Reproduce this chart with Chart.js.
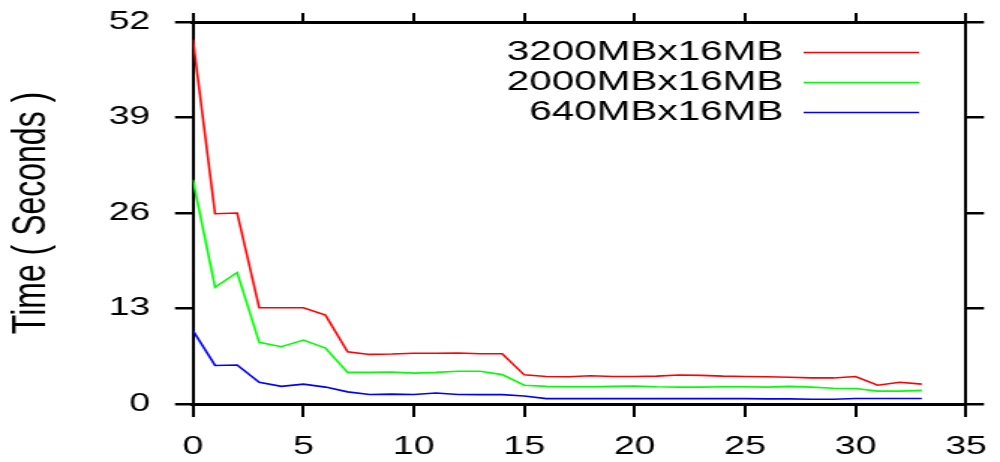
<!DOCTYPE html>
<html>
<head>
<meta charset="utf-8">
<script src="https://cdn.jsdelivr.net/npm/chart.js@4/dist/chart.umd.min.js"></script>
<style>
  html, body { margin: 0; padding: 0; background: #fff; overflow: hidden; }
  /* the original figure is stretched sideways, so draw narrow and widen it */
  #wrap { position: absolute; left: 0; top: 0; width: 667px; height: 462px;
          transform: scaleX(1.49925); transform-origin: 0 0; }
</style>
</head>
<body>
<div id="wrap"><canvas id="timeChart"></canvas></div>
<script>
// iteration index along the x axis
const steps = [0, 1, 2, 3, 4, 5, 6, 7, 8, 9, 10, 11, 12, 13, 14, 15, 16,
               17, 18, 19, 20, 21, 22, 23, 24, 25, 26, 27, 28, 29, 30, 31, 32, 33];

const seriesNames = ['3200MBx16MB', '2000MBx16MB', '640MBx16MB'];

// time in seconds
const time3200 = [49.6, 25.9, 26.0, 13.1, 13.1, 13.1, 12.1, 7.1, 6.75, 6.8, 6.9, 6.9,
                  6.95, 6.85, 6.85, 3.97, 3.75, 3.7, 3.85, 3.75, 3.75, 3.8, 3.95, 3.9,
                  3.8, 3.75, 3.7, 3.65, 3.55, 3.55, 3.75, 2.55, 2.95, 2.7];
const time2000 = [30.5, 15.9, 17.9, 8.4, 7.8, 8.7, 7.6, 4.3, 4.3, 4.35, 4.2, 4.3,
                  4.45, 4.45, 4.0, 2.55, 2.4, 2.35, 2.35, 2.4, 2.45, 2.35, 2.3, 2.3,
                  2.35, 2.35, 2.3, 2.4, 2.3, 2.15, 2.1, 1.75, 1.75, 1.85];
const time640 = [10.0, 5.25, 5.3, 2.95, 2.4, 2.7, 2.3, 1.65, 1.3, 1.35, 1.3, 1.5,
                 1.3, 1.27, 1.27, 1.1, 0.73, 0.73, 0.73, 0.73, 0.73, 0.73, 0.73, 0.73,
                 0.73, 0.73, 0.7, 0.7, 0.65, 0.65, 0.75, 0.75, 0.75, 0.75];

const seriesColors = ['#ff0000', '#00ff00', '#0000ff'];

const xTicks = { min: 0, max: 35, step: 5 };
const yTicks = { min: 0, max: 52, step: 13 };

const FONT = "'Liberation Sans', Arial, Helvetica, sans-serif";

function toPoints(values) {
    return values.map((v, i) => ({ x: steps[i], y: v }));
}

// put the legend in the upper right of the plot box
const legendPlacer = {
    id: 'legendPlacer',
    afterLayout(chart) {
        const lg = chart.legend;
        if (!lg) return;
        const right = 616, top = 36;
        const w = lg.width, h = lg.height;
        lg.left = right - w;
        lg.right = right;
        lg.top = top;
        lg.bottom = top + h;
    }
};

// fixed axis sizes, and no extra room for overhanging labels
function fixSize(dim, val) {
    return (s) => {
        s[dim] = val;
        s.paddingLeft = s.paddingRight = s.paddingTop = s.paddingBottom = 0;
    };
}

function axisBase(pos, tickLen, borderW, markW) {
    return {
        type: 'linear',
        position: pos,
        border: { display: true, color: '#000', width: borderW },
        grid: { drawOnChartArea: false, drawTicks: true, tickLength: tickLen,
                color: '#000', lineWidth: markW }
    };
}

const xAxis = axisBase('bottom', 13, 3, 2);
xAxis.min = xTicks.min; xAxis.max = xTicks.max;
xAxis.ticks = { stepSize: xTicks.step, color: '#000', padding: 15,
                font: { family: FONT, size: 25 }, maxRotation: 0 };
xAxis.afterFit = fixSize('height', 58);

const xTop = axisBase('top', 9, 3, 2);
xTop.min = xTicks.min; xTop.max = xTicks.max;
xTop.ticks = { stepSize: xTicks.step, display: false };
xTop.afterFit = fixSize('height', 22);

const yAxis = axisBase('left', 12, 2, 2.5);
yAxis.min = yTicks.min; yAxis.max = yTicks.max;
yAxis.ticks = { stepSize: yTicks.step, color: '#000', padding: 16.5,
                font: { family: FONT, size: 25 } };
yAxis.title = { display: true, text: 'Time ( Seconds )', color: '#000',
                font: { family: FONT, size: 32 }, padding: { top: 2, bottom: 0 } };
yAxis.afterFit = fixSize('width', 128.7);

const yRight = axisBase('right', 12, 2, 2.5);
yRight.min = yTicks.min; yRight.max = yTicks.max;
yRight.ticks = { stepSize: yTicks.step, display: false };
yRight.afterFit = fixSize('width', 22.7);

const timeChart = new Chart(document.getElementById('timeChart'), {
    type: 'line',
    data: {
        datasets: [time3200, time2000, time640].map((vals, i) => ({
            label: seriesNames[i],
            data: toPoints(vals),
            borderColor: seriesColors[i],
            backgroundColor: seriesColors[i],
            borderWidth: 1.6,
            pointRadius: 0,
            tension: 0,
            fill: false,
            xAxisID: 'x',
            yAxisID: 'y'
        }))
    },
    options: {
        responsive: true,
        maintainAspectRatio: false,
        animation: false,
        layout: { padding: 0 },
        plugins: {
            tooltip: { enabled: false },
            legend: {
                position: 'chartArea',
                align: 'start',
                rtl: true,
                textDirection: 'ltr',
                labels: {
                    usePointStyle: true,
                    pointStyle: 'line',
                    pointStyleWidth: 77,
                    padding: 3,
                    color: '#000',
                    font: { family: FONT, size: 27 }
                }
            }
        },
        scales: { x: xAxis, x2: xTop, y: yAxis, y2: yRight }
    },
    plugins: [legendPlacer]
});
</script>
</body>
</html>
